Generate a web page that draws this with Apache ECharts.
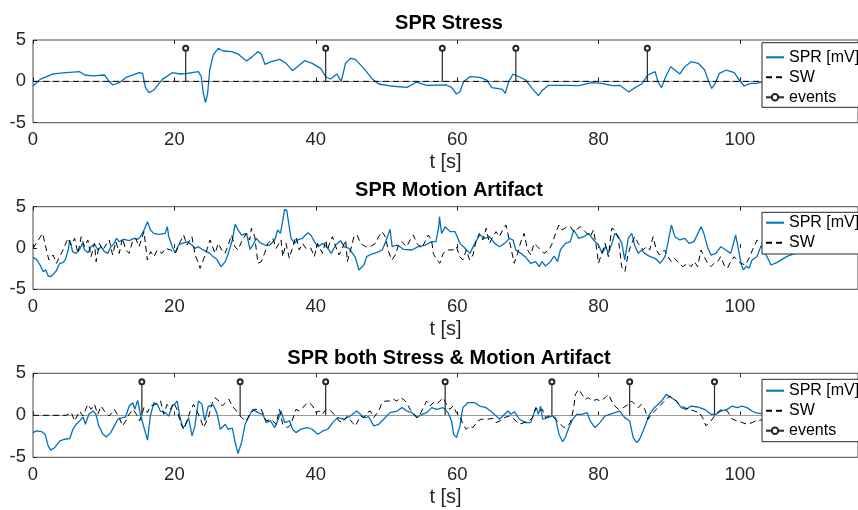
<!DOCTYPE html>
<html><head><meta charset="utf-8">
<script src="https://cdn.jsdelivr.net/npm/echarts@6/dist/echarts.min.js"></script>
<style>html,body{margin:0;padding:0;background:#fff}#c{width:858px;height:510px}</style>
</head><body><div id="c"></div>
<script>
// ---------- data ----------
const titles = ['SPR Stress', 'SPR Motion Artifact', 'SPR both Stress & Motion Artifact'];
const xLabel = 't [s]';
const legendNames = ['SPR [mV]', 'SW', 'events'];
const xRange = [0, 116.7];
const yRange = [-5, 5];
const xStep = 20;
const yStep = 5;
const eventLevel = 4;

const stressSPR = [[0,-0.56],[1,0.24],[2.85,0.9],[4.7,1.05],[6.6,1.17],[7.3,0.77],[8.5,0.65],[10.1,0.77],[10.8,-0.04],[11.3,-0.44],[12.2,-0.16],[13.1,0.44],[15.0,1.05],[15.5,0.97],[15.9,-0.73],[16.4,-1.37],[17.1,-1.05],[18.3,0.24],[19.7,1.05],[20.8,0.89],[21.8,0.97],[23.4,1.17],[23.8,0.56],[24.1,-1.45],[24.4,-2.58],[24.7,-1.45],[25.0,1.37],[25.5,3.19],[26.2,4.0],[26.9,3.67],[28.1,3.59],[29.0,3.31],[30.2,2.46],[30.9,2.9],[31.8,3.59],[32.3,3.31],[32.8,2.06],[33.7,2.38],[34.9,2.66],[35.8,2.18],[36.7,1.29],[37.4,1.77],[38.4,2.5],[39.5,2.18],[40.7,1.57],[41.4,0.56],[42.1,0.28],[43.0,0.89],[43.6,-0.04],[44.2,2.18],[44.9,2.78],[45.6,2.66],[46.8,1.57],[48.0,0.28],[48.9,-0.32],[50.5,-0.56],[52.9,-0.73],[54.3,-0.08],[55.7,-0.48],[58.5,-0.44],[59.2,-0.73],[59.9,-1.53],[60.4,-1.25],[60.9,-0.04],[61.8,0.56],[63.2,0.48],[64.2,0.16],[64.9,-0.77],[65.6,-0.85],[66.4,-0.97],[66.8,-1.45],[67.3,-0.04],[67.9,0.89],[68.5,0.65],[69.7,0.16],[70.6,-0.85],[71.5,-1.73],[72.0,-1.13],[72.9,-0.48],[75.3,-0.48],[77.2,-0.52],[79.0,-0.16],[80.5,-0.24],[81.9,-0.52],[83.0,-0.48],[84.3,-1.29],[85.2,-0.73],[86.1,-0.32],[87.0,0.77],[88.0,1.17],[88.4,-0.04],[88.9,-0.77],[89.5,0.56],[90.2,1.77],[90.8,1.37],[91.5,0.89],[92.2,1.77],[93.1,2.38],[94.1,2.18],[95.0,1.37],[95.6,-0.04],[96.0,-0.85],[96.5,-0.24],[97.1,0.97],[98.1,1.37],[99.2,1.05],[99.9,0.16],[100.6,-0.56],[101.5,-0.24],[102.3,-0.24],[104,0.1],[106,0.3],[108,0.2]];
const stressSW = [[0,0],[116.7,0]];
const stressEvents = [21.6, 41.4, 57.9, 68.3, 86.9];

const motionSPR = [[0,-1.13],[0.5,-1.37],[1.0,-2.06],[1.45,-2.86],[1.8,-2.66],[2.15,-3.39],[2.5,-3.47],[2.9,-3.15],[3.3,-2.74],[3.8,-1.85],[4.25,-1.77],[4.6,-1.37],[5.0,-0.16],[5.2,0.97],[5.6,-0.44],[6.1,-0.65],[6.6,-0.16],[7.0,0.56],[7.3,-0.24],[7.8,-0.56],[8.2,0.16],[8.7,0.44],[9.2,-0.24],[9.6,0.16],[10.1,-0.44],[10.6,-0.65],[11.0,0.16],[11.5,0.56],[11.8,1.17],[12.2,0.77],[12.9,1.05],[13.6,0.89],[14.3,1.17],[14.8,1.05],[15.2,1.37],[15.7,2.18],[15.9,2.26],[16.2,3.19],[16.4,3.19],[16.6,2.18],[17.1,1.77],[17.8,1.65],[18.7,1.77],[19.0,2.58],[19.2,1.37],[19.7,0.16],[20.1,-0.56],[20.6,0.36],[21.1,0.56],[21.8,0.77],[22.5,0.36],[22.9,-0.04],[23.4,0.16],[23.9,-0.16],[24.3,-0.32],[25.0,-0.65],[25.5,-1.05],[26.0,-1.37],[26.6,-2.26],[27.2,-1.65],[27.6,-0.73],[28.2,0.97],[28.6,2.9],[29.0,2.18],[29.5,1.57],[30.2,1.77],[30.7,-0.16],[31.1,0.36],[31.6,1.17],[32.1,0.65],[32.8,0.36],[33.5,0.36],[34.2,0.97],[34.6,2.18],[35.0,1.77],[35.3,3.19],[35.6,4.68],[35.9,4.52],[36.1,3.39],[36.5,1.17],[37.0,0.56],[37.4,0.97],[38.1,1.17],[38.9,1.85],[39.3,1.57],[39.8,0.77],[40.3,0.16],[41.0,0.56],[41.7,-0.04],[42.2,-0.65],[42.8,0.36],[43.5,0.89],[44.0,0.16],[44.7,-0.04],[45.2,-0.65],[45.6,-1.13],[46.1,-2.66],[46.3,-2.86],[46.8,-2.06],[47.2,-1.05],[47.9,-0.73],[48.6,-0.56],[49.4,-0.24],[49.8,0.56],[50.3,1.77],[50.5,2.26],[50.8,0.16],[51.5,0.36],[52.4,-0.16],[53.6,-0.24],[54.5,0.16],[55.5,0.36],[56.4,0.77],[57.0,0.77],[57.4,2.58],[57.5,3.79],[57.8,1.77],[58.3,2.58],[59.0,1.98],[59.7,1.98],[60.4,0.56],[61.1,-0.04],[61.8,-0.65],[62.5,0.56],[63.2,1.57],[63.9,1.17],[64.6,1.37],[65.3,0.56],[66.0,0.16],[66.7,0.56],[67.4,1.17],[67.9,0.97],[68.3,-0.24],[69.0,-0.65],[69.7,-1.13],[70.4,-1.85],[71.1,-1.65],[71.6,-2.26],[72.0,-1.65],[72.5,-2.18],[73.2,-1.65],[73.7,-0.97],[74.2,-1.65],[74.6,-0.24],[75.3,0.56],[76.0,0.77],[76.5,2.18],[77.2,1.17],[77.9,1.37],[78.6,1.77],[79.3,0.97],[80.0,0.36],[80.5,-0.65],[81.0,0.16],[81.4,-0.65],[81.9,0.56],[82.3,1.77],[82.8,1.37],[83.3,0.56],[83.7,-1.45],[84.2,1.17],[84.7,1.77],[85.1,0.36],[85.6,-0.65],[86.1,-0.24],[86.5,-0.65],[87.3,-1.05],[88.0,-1.25],[88.7,-1.85],[89.4,-1.05],[89.8,0.56],[90.3,2.78],[90.8,1.37],[91.5,0.97],[92.2,1.17],[92.8,0.56],[93.5,0.77],[94.5,2.58],[94.9,1.77],[95.4,0.16],[95.9,-0.85],[96.6,-0.65],[97.3,0.16],[98.0,-0.24],[98.7,-0.65],[99.4,1.57],[99.8,-0.24],[100.2,-2.06],[100.5,-2.66],[100.9,-2.18],[101.3,-2.46],[101.7,-1.45],[102.4,-1.05],[103.0,0.3],[103.8,-1.0],[104.4,-2.06],[105.2,-1.77],[106.6,-1.05],[108.0,-0.56]];
const motionSW = [[0,-0.04],[1.36,1.77],[2.24,-1.45],[2.85,-0.85],[3.32,-1.85],[4.25,-0.24],[4.95,1.17],[5.42,0.36],[5.89,1.17],[6.36,-0.65],[6.82,1.37],[7.29,0.16],[7.76,0.97],[8.22,-1.05],[8.69,0.56],[8.93,-1.65],[9.39,0.56],[9.86,-0.24],[10.79,0.97],[11.26,-0.85],[11.73,0.77],[12.2,-0.65],[12.66,1.17],[13.13,-0.24],[13.6,-0.65],[14.07,0.77],[14.53,1.17],[15.0,0.16],[15.7,1.98],[16.17,-1.45],[16.64,-0.44],[17.1,-1.05],[17.57,-0.24],[18.27,-0.65],[18.74,-0.04],[19.44,-0.24],[20.14,-0.65],[20.84,0.77],[21.31,1.57],[21.78,0.36],[22.48,1.37],[22.94,-0.85],[23.41,-1.85],[23.64,-2.46],[24.35,-0.85],[25.05,0.97],[25.75,-0.65],[26.21,0.56],[26.68,-0.24],[27.15,-0.65],[27.62,0.36],[28.08,1.57],[28.55,0.16],[29.02,-0.24],[29.49,0.77],[30.19,1.77],[30.65,0.97],[30.89,2.38],[31.36,1.37],[31.82,-1.85],[32.29,-1.65],[32.76,-0.65],[33.22,0.56],[33.93,1.17],[34.39,-0.04],[35.09,0.97],[35.33,-1.05],[35.79,0.56],[36.26,-1.25],[36.73,0.16],[37.2,1.37],[37.66,-0.24],[38.13,0.56],[38.6,-0.04],[39.32,-0.04],[39.79,-1.05],[40.25,0.56],[40.95,-0.65],[41.42,0.97],[41.65,-0.24],[42.12,0.97],[42.36,1.37],[42.83,0.16],[43.29,-0.85],[43.76,-0.04],[44.23,0.97],[44.46,-1.65],[44.93,-0.24],[45.4,1.37],[45.86,1.57],[46.33,0.56],[47.03,0.16],[47.73,0.16],[48.44,0.56],[48.9,1.37],[49.37,1.98],[49.83,1.37],[50.3,-0.44],[50.77,-1.45],[51.24,-0.85],[51.7,0.36],[52.17,0.77],[52.87,0.16],[53.34,0.97],[53.81,1.57],[54.28,0.56],[54.98,-0.04],[55.45,0.77],[55.91,1.57],[56.38,0.97],[56.62,-0.65],[57.08,-1.45],[57.55,-1.85],[58.02,-0.65],[58.72,-0.24],[59.42,-0.24],[59.89,0.16],[60.36,-1.05],[60.82,-1.45],[61.29,-0.24],[61.76,-1.45],[62.23,-0.85],[62.7,0.97],[63.16,1.77],[63.63,0.97],[64.1,2.38],[64.57,0.56],[65.03,1.37],[65.5,1.98],[65.97,1.37],[66.44,2.18],[66.91,2.78],[67.37,0.97],[68.07,-1.85],[68.54,-0.65],[69.01,0.77],[69.48,1.77],[69.95,-0.24],[70.41,-0.85],[70.88,0.56],[71.35,0.16],[71.81,-0.24],[72.28,-0.65],[72.98,-0.24],[73.45,0.56],[73.92,1.77],[74.38,2.78],[74.85,2.18],[75.55,2.58],[76.02,2.58],[76.49,1.98],[76.72,1.77],[77.42,2.58],[78.12,1.98],[78.82,1.37],[79.29,2.18],[79.76,-0.24],[79.99,-1.85],[80.46,-0.65],[80.93,0.56],[81.39,-1.05],[81.86,2.38],[82.33,2.18],[82.8,1.17],[83.27,-2.26],[83.73,-2.86],[84.2,-0.65],[84.67,0.56],[85.14,1.37],[85.6,0.56],[86.31,-0.24],[86.77,0.16],[87.24,-0.24],[87.71,1.37],[88.18,-0.24],[88.64,-0.85],[89.34,-0.24],[89.81,-1.05],[90.28,-1.65],[90.74,-1.25],[91.21,-1.65],[91.91,-2.26],[92.61,-1.85],[93.08,-2.26],[93.55,-1.65],[94.02,-2.26],[94.49,-0.24],[94.95,-1.05],[95.42,-1.85],[95.89,-2.26],[96.35,-1.85],[96.82,-1.65],[97.29,-1.05],[97.76,-2.06],[98.22,-2.46],[98.69,-1.65],[99.16,-1.05],[99.63,-1.45],[100.1,-1.85],[100.8,-2.06],[101.27,-1.25],[101.97,0.16],[102.43,0.97],[103.2,0.5],[104.0,-0.3]];

const bothSPR = [[0,-2.06],[0.5,-1.86],[1.2,-1.94],[1.7,-2.25],[2.15,-3.64],[2.5,-4.15],[3.1,-3.83],[3.8,-3.04],[4.5,-2.85],[5.2,-2.77],[5.65,-1.66],[6.1,-1.07],[6.6,-0.67],[7.1,-0.2],[7.4,-1.07],[7.9,0.12],[8.5,0.51],[8.9,0.12],[9.3,-1.26],[9.9,-2.25],[10.4,-2.57],[11.0,-2.06],[11.5,-1.26],[12.0,-0.47],[12.7,-0.28],[13.1,-0.2],[13.6,1.1],[14.1,1.5],[14.4,0.71],[14.8,1.78],[15.2,0.12],[15.7,-1.46],[16.2,-2.96],[16.6,-0.08],[17.1,1.5],[17.6,1.3],[18.0,0.51],[18.7,0.32],[19.2,-0.08],[19.7,1.1],[20.1,1.38],[20.4,1.7],[20.8,-0.28],[21.2,-1.46],[21.5,-1.26],[22.0,-0.28],[22.5,-2.45],[22.9,-1.26],[23.4,1.7],[23.9,1.3],[24.3,-0.67],[24.8,1.1],[25.5,1.22],[26.0,0.32],[26.5,-1.66],[27.2,-1.07],[27.6,-1.66],[28.2,-1.54],[28.6,-3.24],[29.0,-4.55],[29.5,-3.24],[30.0,-1.07],[30.7,0.12],[31.1,0.71],[31.8,0.32],[32.5,0.12],[33.0,-0.87],[33.6,-0.67],[34.2,-1.46],[34.6,-0.67],[35.1,0.51],[35.6,-0.87],[36.3,-0.67],[36.7,-1.66],[37.2,-2.06],[37.9,-1.66],[38.8,-1.46],[39.5,-1.66],[40.3,-2.25],[41.0,-1.86],[41.7,-1.66],[42.4,-0.87],[43.1,-0.28],[44.0,-0.47],[44.7,-0.2],[45.2,0.12],[45.8,0.51],[46.3,0.12],[46.8,-0.28],[47.5,-0.2],[48.2,-1.26],[48.9,-1.07],[49.6,-0.47],[50.5,0.32],[51.5,0.51],[52.2,0.91],[52.9,0.51],[53.6,0.32],[54.3,-0.28],[55.0,0.12],[55.7,0.32],[56.4,0.91],[57.1,0.71],[58.0,0.91],[58.7,0.32],[59.2,-0.67],[59.5,-2.25],[59.9,-2.65],[60.4,-1.26],[60.8,0.91],[61.5,1.5],[62.5,1.5],[63.2,1.1],[64.1,0.91],[65.0,0.32],[66.0,-0.47],[66.7,0.12],[67.2,0.51],[67.6,0.12],[68.1,0.43],[68.8,-0.47],[69.7,-0.87],[70.4,-0.87],[70.9,0.32],[71.2,0.91],[71.5,0.12],[71.8,1.1],[72.1,-0.47],[72.8,-0.28],[73.5,-0.08],[73.9,-0.28],[74.4,-2.25],[74.9,-3.12],[75.3,-2.65],[75.8,-1.46],[76.3,-0.55],[76.9,0.12],[77.6,0.12],[78.4,0.32],[78.8,-0.67],[79.5,-1.46],[80.2,-0.87],[80.9,-0.08],[81.6,0.12],[82.3,0.32],[83.0,0.51],[83.7,-0.28],[84.4,-0.67],[84.9,-2.65],[85.4,-3.24],[85.8,-2.85],[86.5,-1.46],[87.2,0.12],[87.9,0.91],[88.9,1.7],[89.6,2.49],[90.3,2.09],[91.0,1.7],[91.7,0.91],[92.4,0.71],[93.1,1.1],[94.0,0.99],[95.0,0.71],[95.9,0.12],[96.6,0.12],[97.3,0.51],[98.2,0.71],[98.9,1.1],[99.6,0.91],[100.3,1.1],[101.0,0.91],[101.7,0.51],[102.2,0.32],[103.5,0.1],[105.0,0.3]];
const bothSW = [[0,0],[4.7,0],[5.42,0.32],[5.89,-0.67],[6.59,0.51],[7.06,-0.08],[7.76,1.3],[8.22,0.71],[8.69,1.3],[9.16,0.12],[9.63,1.11],[10.09,0.51],[10.79,-0.08],[11.5,0.71],[12.2,-0.28],[12.66,-1.26],[13.13,-0.67],[13.6,0.12],[14.16,0.71],[14.63,0.12],[15.09,-0.67],[15.7,0.91],[16.17,0.32],[16.64,1.11],[17.34,1.3],[18.04,1.7],[18.5,0.12],[18.97,1.3],[19.44,0.71],[19.91,1.5],[20.37,0.71],[20.84,-0.87],[21.31,-1.66],[21.78,-0.67],[22.24,0.51],[22.71,1.3],[23.18,0.51],[23.64,-0.28],[24.11,-1.46],[24.81,-0.28],[25.28,1.3],[25.75,2.09],[26.31,1.7],[26.78,1.11],[27.24,1.5],[27.71,1.9],[28.18,1.11],[28.79,0.51],[29.49,-0.28],[30.19,-0.67],[30.65,0.12],[31.36,0.71],[32.29,0.71],[32.99,-0.67],[33.69,-0.47],[34.39,-1.07],[34.86,0.71],[35.33,-1.07],[36.03,-1.46],[36.5,-1.07],[37.2,0.71],[37.66,0.51],[38.13,0.91],[38.62,1.3],[39.08,1.5],[39.55,1.11],[40.02,0.32],[40.49,0.51],[40.95,0.12],[41.42,0.71],[42.12,0.51],[42.83,-0.08],[43.29,-0.67],[43.76,-0.87],[44.46,-0.08],[45.16,-0.87],[45.63,-1.26],[46.33,-0.08],[46.8,-0.28],[47.27,0.32],[47.73,0.51],[48.2,-0.28],[48.9,0.51],[49.37,1.5],[49.83,1.7],[50.54,1.7],[51.0,1.9],[51.47,1.7],[51.94,2.09],[52.4,1.9],[52.87,1.5],[53.34,0.71],[53.81,0.32],[54.28,-0.28],[54.75,0.12],[55.21,0.91],[55.68,1.7],[56.15,1.11],[56.62,1.5],[57.08,1.3],[57.55,1.7],[58.02,2.09],[58.49,1.3],[58.95,0.71],[59.42,1.11],[59.89,0.32],[60.36,-0.08],[60.82,-1.07],[61.29,-1.66],[61.76,-1.26],[62.23,-1.46],[62.93,-0.67],[63.4,-0.47],[63.87,-0.47],[64.33,-0.47],[65.03,-0.36],[65.5,-0.87],[66.06,-0.67],[66.67,-0.28],[67.37,-0.08],[68.07,-0.47],[68.77,-1.07],[69.48,-0.87],[70.18,-0.67],[70.65,-0.28],[71.12,0.91],[71.58,0.51],[72.05,0.71],[72.52,-0.28],[72.98,-0.08],[73.69,-0.28],[74.38,-0.87],[75.09,-1.46],[75.55,-1.26],[76.02,-0.87],[76.49,0.91],[76.72,2.49],[77.19,3.08],[77.66,2.49],[78.12,1.9],[78.59,2.09],[79.06,1.7],[79.76,1.9],[80.23,1.7],[80.93,2.09],[81.39,2.49],[81.86,1.7],[82.33,1.11],[82.8,0.71],[83.5,0.91],[84.2,1.3],[84.67,1.7],[85.14,1.3],[85.6,0.91],[86.07,1.3],[86.54,0.71],[87.0,-0.47],[87.47,0.12],[87.94,0.51],[88.64,1.11],[89.34,1.7],[90.04,2.29],[90.74,1.9],[91.45,1.3],[92.15,0.91],[92.85,0.71],[93.55,0.51],[94.25,0.32],[94.72,-0.28],[95.19,-1.26],[95.89,-0.67],[96.59,0.12],[97.06,0.51],[97.52,0.71],[98.22,0.51],[98.93,-0.47],[99.63,-0.67],[100.33,-0.87],[101.03,-1.07],[101.73,-0.87],[102.2,-0.67],[103.5,-0.5],[105.0,-0.8]];
const bothEvents = [15.4, 29.3, 41.4, 58.3, 73.4, 84.4, 96.4];

// ---------- layout ----------
const FONT = '"Liberation Sans", Arial, Helvetica, sans-serif';
const AX = '#262626';
const panels = [
  { top: 40, height: 82.7, titleY: 23, legendTop: 42.7, legendPad: [6.6, 90, 2, 3], spr: stressSPR, sw: stressSW, events: stressEvents },
  { top: 206.7, height: 82.6, titleY: 190, legendTop: 212.3, legendPad: [2.4, 90, 3.3, 3], spr: motionSPR, sw: motionSW, events: null },
  { top: 373.3, height: 84, titleY: 358, legendTop: 379.3, legendPad: [3.4, 90, 3, 3], spr: bothSPR, sw: bothSW, events: bothEvents }
];
const gridLeft = 33, gridWidth = 832;

const grid = [], xAxis = [], yAxis = [], series = [], legend = [], graphic = [];
panels.forEach((p, i) => {
  grid.push({ left: gridLeft, top: p.top, width: gridWidth, height: p.height, show: true,
    borderColor: '#4a4a4a', borderWidth: 1, backgroundColor: '#fff' });
  xAxis[i] = {
    type: 'value', gridIndex: i, min: xRange[0], max: xRange[1], interval: xStep,
    axisLine: { show: false }, splitLine: { show: false },
    axisTick: { show: true, inside: true, length: 4, lineStyle: { color: AX, width: 1 } },
    axisLabel: { fontSize: 18.5, color: AX, fontFamily: FONT, margin: 8, showMaxLabel: false },
    name: xLabel, nameLocation: 'middle', nameGap: 30,
    nameTextStyle: { fontSize: 20, color: AX, fontFamily: FONT }
  };
  xAxis[i + 3] = {
    type: 'value', gridIndex: i, position: 'top', min: xRange[0], max: xRange[1], interval: xStep,
    axisLine: { show: false }, splitLine: { show: false }, axisLabel: { show: false },
    axisTick: { show: true, inside: true, length: 4, lineStyle: { color: AX, width: 1 } }
  };
  yAxis.push({
    type: 'value', gridIndex: i, min: yRange[0], max: yRange[1], interval: yStep,
    axisLine: { show: false }, splitLine: { show: false },
    axisTick: { show: true, inside: true, length: 4, lineStyle: { color: AX, width: 1 } },
    axisLabel: { fontSize: 18.5, color: AX, fontFamily: FONT, margin: 7 }
  });
  series.push({
    name: legendNames[0], type: 'line', xAxisIndex: i, yAxisIndex: i, data: p.spr,
    symbol: 'none', lineStyle: { color: '#0072BD', width: 1.3 },
    itemStyle: { color: '#0072BD', opacity: 0 },
    animation: false, silent: true
  });
  series.push({
    name: legendNames[1], type: 'line', xAxisIndex: i, yAxisIndex: i, data: p.sw,
    symbol: 'none', lineStyle: { color: '#000', width: 1, type: [6, 4] },
    itemStyle: { color: '#000', opacity: 0 },
    animation: false, silent: true
  });
  if (p.events) {
    const stemData = [];
    p.events.forEach(e => {
      stemData.push({ value: [e, 0], symbol: 'none' });
      stemData.push({ value: [e, eventLevel] });
      stemData.push({ value: [e, '-'], symbol: 'none' });
    });
    series.push({
      name: legendNames[2], type: 'line', xAxisIndex: i, yAxisIndex: i, data: stemData,
      connectNulls: false, symbol: 'emptyCircle', symbolSize: 5, showSymbol: true,
      lineStyle: { color: AX, width: 1.2 }, itemStyle: { color: AX, borderColor: AX, borderWidth: 1 },
      animation: false, silent: true,
      markLine: { silent: true, z: 1, symbol: 'none', label: { show: false }, animation: false,
        lineStyle: { color: '#9a9a9a', type: 'solid', width: 1 }, data: [{ yAxis: 0 }] }
    });
  }
  const names = p.events ? legendNames : legendNames.slice(0, 2);
  legend.push({
    data: names.map(n => n === legendNames[2] ? { name: n } : { name: n, itemStyle: { opacity: 0 } }),
    orient: 'vertical', left: 762, top: p.legendTop, padding: p.legendPad,
    itemWidth: 18, itemHeight: 8, itemGap: 4, selectedMode: false,
    backgroundColor: '#fff', borderColor: AX, borderWidth: 1, borderRadius: 0,
    textStyle: { fontSize: 16, color: '#000', fontFamily: FONT }
  });
  graphic.push({ type: 'text', x: gridLeft + gridWidth / 2, y: p.titleY, silent: true,
    style: { text: titles[i], fill: '#000', font: 'bold 20px ' + FONT, align: 'center', verticalAlign: 'middle' } });
});

const chart = echarts.init(document.getElementById('c'), null, { renderer: 'canvas' });
chart.setOption({ animation: false, backgroundColor: '#fff', grid, xAxis, yAxis, series, legend, graphic });
</script>
</body></html>
